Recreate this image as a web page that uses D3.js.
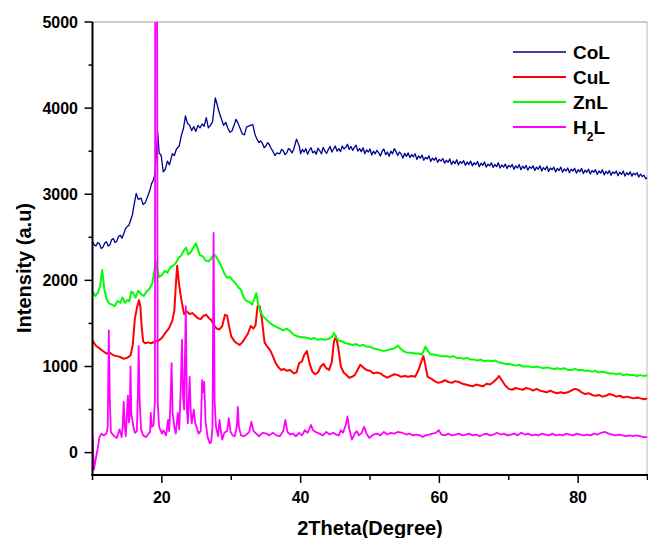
<!DOCTYPE html>
<html>
<head>
<meta charset="utf-8">
<script src="https://cdn.jsdelivr.net/npm/d3@7"></script>
<style>
  html, body { margin: 0; padding: 0; background: #fff; }
  svg { display: block; font-family: Arial, "Liberation Sans", sans-serif; }
  .tick-label { font-size: 16px; font-weight: bold; fill: #000; }
  .axis-title { font-size: 20px; font-weight: bold; fill: #000; }
  .legend-label { font-size: 19px; font-weight: bold; fill: #000; }
</style>
</head>
<body>
<svg id="chart" width="648" height="538"></svg>
<script>
/* XRD patterns of the ligand (H2L) and its Co, Cu, Zn complexes.
   Values are [2theta, intensity]. */

var xMajor = [20, 40, 60, 80];
var xMinor = [10, 30, 50, 70, 90];
var yMajor = [0, 1000, 2000, 3000, 4000, 5000];
var yMinor = [500, 1500, 2500, 3500, 4500];

var seriesNames = ['CoL', 'CuL', 'ZnL', 'H2L'];

var coL = [
  [10,2450],[10.25,2410],[10.5,2400],[10.75,2440],[11,2425],[11.25,2370],[11.5,2385],[11.75,2430],[12,2450],[12.25,2400],
  [12.5,2410],[12.75,2470],[13,2485],[13.25,2440],[13.5,2455],[13.75,2510],[14,2525],[14.25,2490],[14.5,2540],[14.75,2600],
  [15,2625],[15.25,2640],[15.5,2700],[15.75,2760],[16,2880],[16.3,3010],[16.6,2940],[17,2955],[17.3,2880],[17.6,2900],
  [18,2985],[18.25,3040],[18.5,3120],[18.75,3160],[19,3230],[19.2,3460],[19.4,3720],[19.6,3480],[19.9,3450],[20.2,3260],
  [20.5,3290],[20.8,3385],[21.1,3340],[21.5,3470],[21.8,3450],[22.1,3525],[22.5,3560],[22.8,3680],[23.1,3760],[23.4,3910],
  [23.7,3820],[24,3800],[24.3,3740],[24.6,3785],[24.9,3730],[25.2,3800],[25.5,3770],[25.8,3815],[26.1,3790],[26.4,3890],
  [26.7,3770],[27,3800],[27.3,3840],[27.7,4120],[28,4030],[28.3,3940],[28.6,3870],[28.9,3800],[29.2,3835],[29.5,3770],
  [29.8,3720],[30.1,3735],[30.4,3800],[30.7,3870],[31,3820],[31.3,3760],[31.6,3700],[31.9,3690],[32.2,3780],[32.5,3790],
  [32.8,3800],[33.1,3810],[33.4,3700],[33.7,3640],[34,3600],[34.25,3620],[34.5,3590],[34.75,3540],[35,3560],[35.25,3600],
  [35.5,3575],[35.75,3530],[36,3500],[36.3,3450],[36.6,3480],[37,3470],[37.25,3520],[37.5,3505],[37.75,3460],[38,3480],
  [38.25,3530],[38.5,3515],[38.75,3480],[39,3520],[39.4,3640],[39.8,3560],[40,3470],[40.25,3520],[40.5,3490],[40.75,3530],
  [41,3465],[41.25,3510],[41.5,3540],[41.75,3480],[42,3500],[42.25,3465],[42.5,3535],[42.75,3505],[43,3470],[43.25,3545],
  [43.5,3500],[43.75,3475],[44,3520],[44.25,3555],[44.5,3490],[44.75,3525],[45,3560],[45.25,3500],[45.5,3530],[45.75,3495],
  [46,3560],[46.25,3525],[46.5,3545],[46.75,3580],[47,3520],[47.25,3555],[47.5,3510],[47.75,3545],[48,3570],[48.25,3500],
  [48.5,3530],[48.75,3495],[49,3540],[49.25,3470],[49.5,3515],[49.75,3490],[50,3525],[50.25,3455],[50.5,3500],[50.75,3470],
  [51,3510],[51.25,3480],[51.5,3445],[51.75,3500],[52,3525],[52.25,3460],[52.5,3490],[52.75,3440],[53,3500],[53.25,3470],
  [53.5,3530],[53.75,3495],[54,3450],[54.25,3490],[54.5,3465],[54.75,3420],[55,3475],[55.25,3440],[55.5,3480],[55.75,3425],
  [56,3460],[56.25,3435],[56.5,3470],[56.75,3405],[57,3445],[57.25,3420],[57.5,3455],[57.75,3395],[58,3430],[58.25,3410],
  [58.5,3445],[58.75,3380],[59,3420],[59.25,3395],[59.5,3425],[59.75,3370],[60,3405],[60.25,3385],[60.5,3415],[60.75,3360],
  [61,3395],[61.25,3370],[61.5,3410],[61.75,3345],[62,3385],[62.25,3355],[62.5,3400],[62.75,3340],[63,3380],[63.25,3360],
  [63.5,3390],[63.75,3335],[64,3375],[64.25,3345],[64.5,3385],[64.75,3330],[65,3365],[65.25,3345],[65.5,3380],[65.75,3320],
  [66,3360],[66.25,3335],[66.5,3375],[66.75,3315],[67,3350],[67.25,3330],[67.5,3365],[67.75,3310],[68,3345],[68.25,3320],
  [68.5,3365],[68.75,3305],[69,3340],[69.25,3315],[69.5,3350],[69.75,3300],[70,3335],[70.25,3315],[70.5,3345],[70.75,3290],
  [71,3330],[71.25,3305],[71.5,3345],[71.75,3285],[72,3325],[72.25,3300],[72.5,3335],[72.75,3280],[73,3320],[73.25,3300],
  [73.5,3330],[73.75,3275],[74,3315],[74.25,3290],[74.5,3330],[74.75,3270],[75,3310],[75.25,3285],[75.5,3325],[75.75,3265],
  [76,3305],[76.25,3285],[76.5,3315],[76.75,3260],[77,3300],[77.25,3275],[77.5,3315],[77.75,3255],[78,3295],[78.25,3270],
  [78.5,3305],[78.75,3250],[79,3290],[79.25,3270],[79.5,3300],[79.75,3245],[80,3285],[80.25,3260],[80.5,3300],[80.75,3240],
  [81,3280],[81.25,3255],[81.5,3290],[81.75,3235],[82,3275],[82.25,3255],[82.5,3285],[82.75,3230],[83,3270],[83.25,3245],
  [83.5,3285],[83.75,3225],[84,3265],[84.25,3240],[84.5,3275],[84.75,3220],[85,3260],[85.25,3240],[85.5,3270],[85.75,3215],
  [86,3255],[86.25,3230],[86.5,3270],[86.75,3210],[87,3250],[87.25,3225],[87.5,3260],[87.75,3210],[88,3245],[88.25,3225],
  [88.5,3250],[88.75,3200],[89,3235],[89.25,3205],[89.5,3220],[89.75,3180],[90,3195]
];

var cuL = [
  [10,1300],[10.5,1240],[11,1210],[11.5,1180],[12,1150],[12.5,1160],[13,1130],[13.5,1120],[14,1110],[14.5,1090],
  [15,1100],[15.5,1130],[15.8,1250],[16.1,1550],[16.4,1680],[16.7,1770],[16.9,1700],[17.1,1450],[17.3,1290],[17.6,1270],
  [18,1280],[18.5,1270],[19,1290],[19.5,1300],[20,1330],[20.5,1390],[21,1440],[21.5,1530],[21.8,1650],[22,1930],
  [22.2,2170],[22.5,1940],[22.8,1780],[23.2,1610],[23.6,1640],[24,1610],[24.4,1620],[24.8,1590],[25.2,1560],[25.6,1550],
  [26,1590],[26.4,1600],[26.8,1560],[27.1,1540],[27.5,1480],[27.9,1440],[28.3,1430],[28.7,1470],[29.1,1600],[29.4,1590],
  [29.7,1460],[30,1350],[30.4,1300],[30.8,1270],[31.2,1250],[31.6,1280],[32,1330],[32.4,1380],[32.8,1470],[33.2,1440],
  [33.5,1480],[33.8,1700],[34.1,1700],[34.4,1560],[34.8,1280],[35.2,1230],[35.6,1190],[36,1120],[36.4,1040],[36.8,990],
  [37.2,960],[37.6,970],[38,950],[38.5,960],[39,920],[39.4,930],[39.8,1040],[40.2,1060],[40.5,1130],[40.9,1180],
  [41.3,1030],[41.7,940],[42.1,910],[42.5,930],[42.9,1000],[43.3,1030],[43.7,980],[44.1,960],[44.5,1050],[44.8,1290],
  [45.1,1350],[45.4,1230],[45.8,1000],[46.2,930],[46.6,900],[47,870],[47.4,880],[47.8,900],[48.2,960],[48.6,1020],
  [49,990],[49.5,960],[50,950],[50.5,920],[51,930],[51.5,920],[52,890],[52.5,870],[53,890],[53.5,910],
  [54,900],[54.5,880],[55,890],[55.5,880],[56,890],[56.5,880],[57,960],[57.4,1060],[57.7,1120],[58,1010],
  [58.3,880],[58.8,860],[59.3,830],[59.8,810],[60.3,820],[60.8,840],[61.3,820],[61.8,810],[62.3,830],[62.8,820],
  [63.3,800],[63.8,790],[64.3,780],[64.8,770],[65.3,790],[65.8,780],[66.3,770],[66.8,800],[67.3,790],[67.8,820],
  [68.3,860],[68.6,890],[69,840],[69.5,780],[70,740],[70.5,730],[71,750],[71.5,740],[72,730],[72.5,750],
  [73,740],[73.5,720],[74,740],[74.5,720],[75,710],[75.5,700],[76,720],[76.5,700],[77,690],[77.5,700],
  [78,690],[78.5,700],[79,720],[79.5,740],[80,730],[80.5,700],[81,680],[81.5,690],[82,670],[82.5,660],
  [83,670],[83.5,650],[84,660],[84.5,680],[85,670],[85.5,650],[86,660],[86.5,640],[87,650],[87.5,640],
  [88,630],[88.5,640],[89,630],[89.5,620],[90,630]
];

var znL = [
  [10,1870],[10.4,1820],[10.8,1860],[11.1,1940],[11.4,2120],[11.7,1900],[12,1790],[12.4,1730],[12.8,1720],[13.2,1700],
  [13.6,1760],[14,1740],[14.3,1800],[14.7,1740],[15,1770],[15.3,1760],[15.6,1870],[15.9,1850],[16.2,1800],[16.6,1880],
  [17,1840],[17.4,1820],[17.8,1870],[18.2,1900],[18.6,1960],[18.9,2100],[19.1,2240],[19.3,2130],[19.6,2040],[20,2060],
  [20.4,2110],[20.8,2090],[21.2,2150],[21.6,2170],[22,2200],[22.4,2260],[22.8,2290],[23.2,2350],[23.5,2380],[23.8,2300],
  [24.2,2330],[24.6,2390],[24.9,2430],[25.2,2360],[25.5,2290],[25.9,2280],[26.3,2230],[26.7,2220],[27.1,2250],[27.5,2300],
  [27.8,2280],[28.2,2220],[28.6,2160],[29,2080],[29.4,2030],[29.8,2040],[30.2,2000],[30.6,1970],[31,1920],[31.4,1890],
  [31.8,1800],[32.2,1760],[32.6,1750],[33,1720],[33.3,1780],[33.6,1850],[33.9,1720],[34.2,1640],[34.6,1580],[35,1550],
  [35.5,1510],[36,1480],[36.5,1460],[37,1440],[37.5,1420],[38,1440],[38.5,1410],[39,1370],[39.5,1350],[40,1340],
  [40.5,1340],[41,1330],[41.5,1320],[42,1330],[42.5,1310],[43,1320],[43.5,1310],[44,1320],[44.5,1340],[44.8,1390],
  [45.1,1340],[45.5,1300],[46,1290],[46.5,1270],[47,1260],[47.5,1250],[48,1260],[48.5,1240],[49,1250],[49.5,1230],
  [50,1230],[50.5,1210],[51,1200],[51.5,1190],[52,1180],[52.5,1190],[53,1200],[53.5,1210],[54,1240],[54.5,1200],
  [55,1170],[55.5,1160],[56,1160],[56.5,1150],[57,1150],[57.5,1140],[58,1230],[58.3,1190],[58.7,1140],[59.2,1140],
  [59.7,1130],[60.2,1120],[61,1120],[61.5,1110],[62,1120],[62.5,1100],[63,1100],[63.5,1090],[64,1100],[64.5,1080],
  [65,1080],[65.5,1070],[66,1080],[66.5,1060],[67,1070],[67.5,1060],[68,1070],[68.5,1050],[69,1040],[69.5,1030],
  [70,1030],[70.5,1020],[71,1010],[71.5,1020],[72,1000],[72.5,1000],[73,1000],[73.5,990],[74,1000],[74.5,990],
  [75,980],[75.5,990],[76,980],[76.5,970],[77,980],[77.5,970],[78,980],[78.5,960],[79,960],[79.5,970],
  [80,960],[80.5,960],[81,950],[81.5,950],[82,940],[82.5,950],[83,930],[83.5,940],[84,930],[84.5,920],
  [85,920],[85.5,910],[86,920],[86.5,900],[87,910],[87.5,900],[88,900],[88.5,890],[89,900],[89.5,890],[90,900]
];

var h2L = [
  [10,200],[10.2,-200],[10.5,-60],[10.8,70],[11,180],[11.3,220],[11.6,200],[12,220],[12.2,300],[12.35,1420],
  [12.5,600],[12.65,240],[13,200],[13.3,180],[13.5,170],[13.9,270],[14.2,180],[14.35,300],[14.5,590],[14.65,300],
  [14.8,190],[15.1,660],[15.25,350],[15.35,420],[15.48,1000],[15.6,450],[15.75,380],[15.9,300],[16.1,230],[16.4,250],
  [16.55,700],[16.65,1240],[16.8,600],[17,270],[17.3,200],[17.7,180],[18,210],[18.3,240],[18.4,460],[18.55,300],
  [18.8,320],[19,610],[19.05,6000],[19.3,6000],[19.4,580],[19.6,300],[20,220],[20.2,260],[20.6,200],[20.9,380],
  [21.05,250],[21.2,500],[21.4,1040],[21.55,460],[21.8,300],[22,220],[22.3,460],[22.5,270],[22.7,700],[22.9,1310],
  [23.05,650],[23.2,500],[23.45,1700],[23.6,500],[23.75,340],[24,880],[24.15,500],[24.3,340],[24.6,500],[24.8,340],
  [25,300],[25.3,220],[25.6,250],[25.8,840],[25.95,700],[26.1,820],[26.3,350],[26.6,180],[26.9,110],[27.1,120],
  [27.3,300],[27.45,2550],[27.6,600],[27.8,300],[28.1,190],[28.3,380],[28.5,250],[28.7,150],[29,230],[29.4,250],
  [29.65,400],[29.9,240],[30.2,200],[30.5,190],[30.8,300],[30.95,530],[31.1,300],[31.4,200],[31.8,190],[32.2,210],
  [32.6,240],[32.9,360],[33.2,250],[33.6,220],[34,190],[34.5,230],[35.1,220],[35.5,200],[36,230],[36.5,200],
  [37,190],[37.5,250],[37.8,380],[38.1,240],[38.5,210],[38.9,220],[39.3,190],[39.8,230],[40.2,200],[40.6,260],
  [41,230],[41.5,320],[41.8,260],[42.2,240],[42.7,220],[43.2,200],[43.7,240],[44.2,210],[44.7,230],[45.1,210],
  [45.5,200],[45.8,260],[46.1,230],[46.5,320],[46.75,420],[47,280],[47.4,150],[47.8,220],[48.1,250],[48.4,200],
  [48.8,230],[49.15,300],[49.5,220],[49.9,170],[50.5,210],[51,220],[51.5,200],[52,240],[52.5,210],[53,230],
  [53.5,220],[54,240],[54.7,230],[55.2,210],[55.7,220],[56.2,200],[56.7,210],[57.2,200],[57.6,180],[58,200],
  [58.5,210],[59,220],[59.5,230],[59.9,260],[60.3,210],[60.8,200],[61.3,220],[61.8,200],[62.3,210],[62.8,220],
  [63.3,200],[63.8,210],[64.3,220],[64.8,200],[65.3,210],[65.8,190],[66.3,210],[66.8,220],[67.3,200],[67.8,210],
  [68.3,230],[68.8,210],[69.3,220],[69.8,200],[70.3,210],[70.8,220],[71.3,200],[71.8,230],[72.3,210],[72.8,220],
  [73.3,200],[73.8,210],[74.3,200],[74.8,220],[75.3,210],[75.8,200],[76.3,220],[76.8,200],[77.3,210],[77.8,200],
  [78.3,220],[78.8,210],[79.3,200],[79.8,220],[80.3,210],[80.8,200],[81.3,210],[81.8,200],[82.3,220],[82.8,210],
  [83.3,230],[83.9,240],[84.4,220],[84.9,210],[85.4,200],[85.9,210],[86.4,200],[86.9,190],[87.4,200],[87.9,190],
  [88.4,200],[88.9,190],[89.4,180],[90,180]
];

(function () {
  'use strict';

  var svg = d3.select('#chart');
  var left = 92.5, right = 647.5, top = 22, bottom = 475;

  var x = d3.scaleLinear().domain([10, 90]).range([left, right]);
  var y = d3.scaleLinear().domain([-260, 5000]).range([bottom, top]);

  var series = [
    { name: seriesNames[0], data: coL, color: '#000090', width: 1.3 },
    { name: seriesNames[1], data: cuL, color: '#ff0000', width: 2 },
    { name: seriesNames[2], data: znL, color: '#00ff00', width: 2 },
    { name: seriesNames[3], data: h2L, color: '#ff00ff', width: 1.8 }
  ];

  svg.append('clipPath').attr('id', 'plot-clip')
    .append('rect')
    .attr('x', left).attr('y', top)
    .attr('width', right - left).attr('height', bottom - top);

  /* frame: grey top and right */
  svg.append('line')
    .attr('x1', left).attr('x2', right).attr('y1', top).attr('y2', top)
    .attr('stroke', '#999').attr('stroke-width', 1);
  svg.append('line')
    .attr('x1', right - 0.5).attr('x2', right - 0.5).attr('y1', top).attr('y2', bottom)
    .attr('stroke', '#bbb').attr('stroke-width', 1);

  var line = d3.line()
    .x(function (d) { return x(d[0]); })
    .y(function (d) { return y(d[1]); });

  var plot = svg.append('g').attr('clip-path', 'url(#plot-clip)');
  series.forEach(function (s) {
    plot.append('path')
      .datum(s.data)
      .attr('d', line)
      .attr('fill', 'none')
      .attr('stroke', s.color)
      .attr('stroke-width', s.width)
      .attr('stroke-linejoin', 'round');
  });

  /* axes */
  var axes = svg.append('g').attr('stroke', '#000');
  axes.append('line')
    .attr('x1', left).attr('x2', left).attr('y1', top).attr('y2', bottom + 1)
    .attr('stroke-width', 2);
  axes.append('line')
    .attr('x1', left - 1).attr('x2', right + 1).attr('y1', bottom).attr('y2', bottom)
    .attr('stroke-width', 2);

  yMajor.forEach(function (v) {
    axes.append('line')
      .attr('x1', left - 8).attr('x2', left).attr('y1', y(v)).attr('y2', y(v))
      .attr('stroke-width', 1.5);
  });
  yMinor.forEach(function (v) {
    axes.append('line')
      .attr('x1', left - 4).attr('x2', left).attr('y1', y(v)).attr('y2', y(v))
      .attr('stroke-width', 1.5);
  });
  xMajor.forEach(function (v) {
    axes.append('line')
      .attr('x1', x(v)).attr('x2', x(v)).attr('y1', bottom).attr('y2', bottom + 8)
      .attr('stroke-width', 1.5);
  });
  xMinor.forEach(function (v) {
    axes.append('line')
      .attr('x1', x(v)).attr('x2', x(v)).attr('y1', bottom).attr('y2', bottom + 5)
      .attr('stroke-width', 1.5);
  });

  svg.selectAll('.ylab').data(yMajor).enter().append('text')
    .attr('class', 'tick-label')
    .attr('x', 78).attr('y', function (d) { return y(d); })
    .attr('dy', '0.36em')
    .attr('text-anchor', 'end')
    .text(function (d) { return d; });

  svg.selectAll('.xlab').data(xMajor).enter().append('text')
    .attr('class', 'tick-label')
    .attr('x', function (d) { return x(d); }).attr('y', 503)
    .attr('text-anchor', 'middle')
    .text(function (d) { return d; });

  svg.append('text')
    .attr('class', 'axis-title')
    .attr('x', (left + right) / 2).attr('y', 535)
    .attr('text-anchor', 'middle')
    .text('2Theta(Degree)');

  svg.append('text')
    .attr('class', 'axis-title')
    .attr('transform', 'translate(31,' + 268 + ') rotate(-90)')
    .attr('text-anchor', 'middle')
    .text('Intensity (a.u)');

  /* legend */
  var lg = svg.append('g');
  series.forEach(function (s, i) {
    var ly = 52 + i * 25;
    lg.append('line')
      .attr('x1', 513).attr('x2', 566).attr('y1', ly).attr('y2', ly)
      .attr('stroke', s.color).attr('stroke-width', s.width);
    var t = lg.append('text')
      .attr('class', 'legend-label')
      .attr('x', 573).attr('y', ly + 7);
    if (s.name === 'H2L') {
      t.append('tspan').text('H');
      t.append('tspan').attr('dy', 7).style('font-size', '12px').text('2');
      t.append('tspan').attr('dy', -7).text('L');
    } else {
      t.text(s.name);
    }
  });
})();
</script>
</body>
</html>
